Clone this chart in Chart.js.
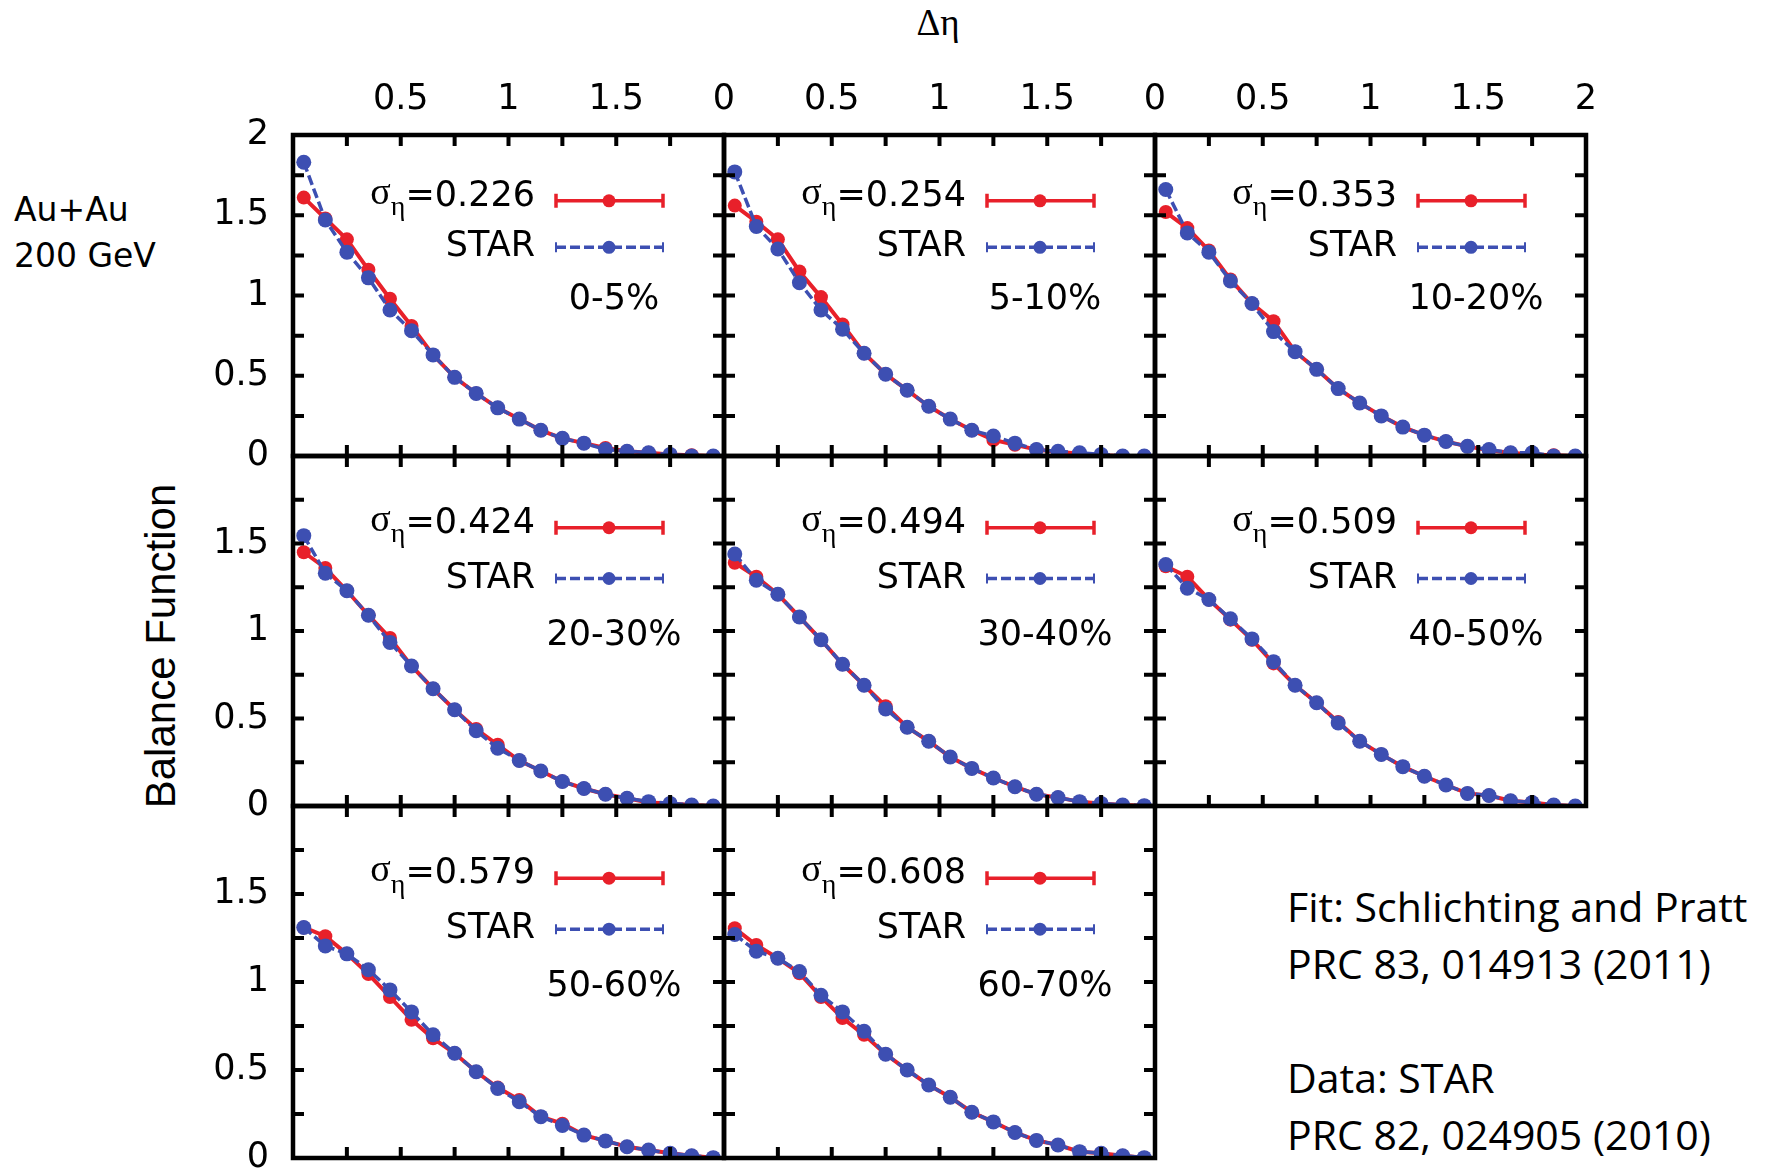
<!DOCTYPE html>
<html>
<head>
<meta charset="utf-8">
<script src="https://cdn.jsdelivr.net/npm/chart.js@4.4.1/dist/chart.umd.min.js"></script>
<style>
body { margin: 0; background: #fff; }
#page { position: relative; width: 1777px; height: 1173px; overflow: hidden; background: #fff; font-family: "DejaVu Sans", sans-serif; }
#page canvas { position: absolute; }
.txt { position: absolute; white-space: nowrap; color: #000; }
</style>
</head>
<body>
<div id="page">
  <div class="txt" style="left:14px; top:187px; font-size:33px; line-height:46px;">Au+Au<br>200 GeV</div>
  <div class="txt" style="left:161px; top:646px; font-size:42px; font-family:'Liberation Sans',Arial,sans-serif; transform: translate(-50%,-50%) rotate(-90deg);">Balance Function</div>
  <div class="txt" style="left:938px; top:22px; font-size:37px; font-family:'Liberation Serif',serif; transform: translate(-50%,-50%);">&Delta;&eta;</div>
  <div class="txt" style="left:1287px; top:878px; font-size:41px; line-height:57px; font-family:'Open Sans',sans-serif;">Fit: Schlichting and Pratt<br>PRC 83, 014913 (2011)<br>&nbsp;<br>Data: STAR<br>PRC 82, 024905 (2010)</div>
</div>
<script>
// delta eta bin centres
const deta = [0.05, 0.15, 0.25, 0.35, 0.45, 0.55, 0.65, 0.75, 0.85, 0.95,
              1.05, 1.15, 1.25, 1.35, 1.45, 1.55, 1.65, 1.75, 1.85, 1.95];
const centralities = ['0-5%', '5-10%', '10-20%', '20-30%', '30-40%', '40-50%', '50-60%', '60-70%'];
const sigmaEta = ['0.226', '0.254', '0.353', '0.424', '0.494', '0.509', '0.579', '0.608'];
const minorTicks = [0.25, 0.5, 0.75, 1, 1.25, 1.5, 1.75];

// fit (red) and STAR data (blue)
const fit0to5   = [1.61, 1.48, 1.35, 1.16, 0.98, 0.81, 0.63, 0.49, 0.39, 0.30, 0.23, 0.16, 0.11, 0.08, 0.05, 0.03, 0.02, 0.01, 0.005, 0.0];
const star0to5  = [1.83, 1.47, 1.27, 1.11, 0.91, 0.78, 0.63, 0.49, 0.39, 0.30, 0.23, 0.16, 0.11, 0.08, 0.04, 0.03, 0.02, 0.01, 0.0, 0.0];
const fit5to10  = [1.56, 1.46, 1.35, 1.15, 0.99, 0.82, 0.64, 0.51, 0.41, 0.31, 0.23, 0.16, 0.10, 0.07, 0.04, 0.025, 0.015, 0.005, 0.0, 0.0];
const star5to10 = [1.77, 1.43, 1.29, 1.08, 0.91, 0.79, 0.64, 0.51, 0.41, 0.31, 0.23, 0.16, 0.125, 0.08, 0.04, 0.03, 0.02, 0.01, 0.0, 0.0];
const fit10to20  = [1.52, 1.42, 1.28, 1.10, 0.95, 0.84, 0.65, 0.54, 0.42, 0.33, 0.25, 0.18, 0.13, 0.09, 0.06, 0.035, 0.02, 0.01, 0.005, 0.0];
const star10to20 = [1.66, 1.39, 1.27, 1.09, 0.95, 0.775, 0.65, 0.54, 0.42, 0.33, 0.25, 0.18, 0.13, 0.09, 0.06, 0.04, 0.02, 0.02, 0.0, 0.0];
const fit20to30  = [1.45, 1.36, 1.23, 1.09, 0.96, 0.80, 0.67, 0.55, 0.44, 0.35, 0.26, 0.20, 0.14, 0.10, 0.067, 0.044, 0.02, 0.015, 0.006, 0.0];
const star20to30 = [1.545, 1.33, 1.23, 1.09, 0.935, 0.80, 0.67, 0.55, 0.43, 0.33, 0.26, 0.20, 0.14, 0.10, 0.067, 0.044, 0.025, 0.015, 0.006, 0.0];
const fit30to40  = [1.39, 1.31, 1.21, 1.08, 0.95, 0.81, 0.69, 0.57, 0.45, 0.37, 0.28, 0.215, 0.16, 0.11, 0.067, 0.048, 0.025, 0.015, 0.006, 0.002];
const star30to40 = [1.44, 1.29, 1.21, 1.08, 0.95, 0.81, 0.69, 0.555, 0.45, 0.37, 0.28, 0.215, 0.16, 0.11, 0.067, 0.048, 0.025, 0.015, 0.006, 0.002];
const fit40to50  = [1.37, 1.31, 1.18, 1.065, 0.95, 0.815, 0.69, 0.59, 0.48, 0.37, 0.295, 0.225, 0.17, 0.12, 0.072, 0.06, 0.03, 0.02, 0.006, 0.0];
const star40to50 = [1.38, 1.245, 1.18, 1.07, 0.955, 0.825, 0.69, 0.59, 0.475, 0.37, 0.295, 0.225, 0.17, 0.12, 0.072, 0.06, 0.03, 0.02, 0.006, 0.0];
const fit50to60  = [1.31, 1.26, 1.16, 1.045, 0.915, 0.785, 0.68, 0.595, 0.49, 0.40, 0.33, 0.235, 0.195, 0.13, 0.097, 0.064, 0.045, 0.027, 0.013, 0.002];
const star50to60 = [1.31, 1.205, 1.16, 1.07, 0.955, 0.83, 0.70, 0.595, 0.49, 0.395, 0.32, 0.235, 0.185, 0.13, 0.097, 0.064, 0.045, 0.027, 0.013, 0.002];
const fit60to70  = [1.305, 1.21, 1.135, 1.05, 0.915, 0.795, 0.70, 0.59, 0.50, 0.415, 0.345, 0.26, 0.205, 0.145, 0.10, 0.074, 0.036, 0.027, 0.013, 0.002];
const star60to70 = [1.27, 1.175, 1.135, 1.06, 0.925, 0.83, 0.72, 0.59, 0.50, 0.415, 0.345, 0.26, 0.205, 0.145, 0.10, 0.074, 0.036, 0.027, 0.013, 0.002];

const fitSeries = [fit0to5, fit5to10, fit10to20, fit20to30, fit30to40, fit40to50, fit50to60, fit60to70];
const starSeries = [star0to5, star5to10, star10to20, star20to30, star30to40, star40to50, star50to60, star60to70];

const RED = '#e8202a';
const BLUE = '#3d4fb2';
const colEdges = [293, 724, 1155, 1586];
const rowEdges = [135, 456, 806, 1158];
const tickFont = { family: '"DejaVu Sans", sans-serif', size: 35 };
const AXW = 80, AXH = 60;      // fixed axis box sizes
const PL = 95, PT = 75, PR = 12, PB = 12;   // canvas margins round each panel

// frame, inner ticks, key and centrality label for one panel
const panelPlugin = {
    id: 'panelFrame',
    afterDatasetsDraw(chart) {
        const { ctx, chartArea: a } = chart;
        const x = chart.scales.x, y = chart.scales.y;
        const idx = chart.options.plugins.panelFrame.index;
        ctx.save();
        ctx.strokeStyle = '#000';
        ctx.lineWidth = 4;
        ctx.beginPath();
        minorTicks.forEach(v => {
            const px = x.getPixelForValue(v);
            ctx.moveTo(px, a.top); ctx.lineTo(px, a.top + 11);
            ctx.moveTo(px, a.bottom); ctx.lineTo(px, a.bottom - 11);
            const py = y.getPixelForValue(v);
            ctx.moveTo(a.left, py); ctx.lineTo(a.left + 11, py);
            ctx.moveTo(a.right, py); ctx.lineTo(a.right - 11, py);
        });
        ctx.stroke();
        ctx.lineWidth = 4.5;
        ctx.strokeRect(a.left, a.top, a.right - a.left, a.bottom - a.top);

        //key
        const yl1 = y.getPixelForValue(1.59);
        const yl2 = y.getPixelForValue(1.30);
        const yl3 = y.getPixelForValue(0.97);
        const tr = a.left + 242, s1 = a.left + 263, s2 = a.left + 370, sm = a.left + 316;
        ctx.fillStyle = '#000';
        ctx.textBaseline = 'middle';
        ctx.textAlign = 'left';
        const mainFont = '35px "DejaVu Sans", sans-serif';
        const symFont = '38px "Liberation Serif", serif';
        const subFont = '28px "Liberation Serif", serif';
        const rest = '=' + sigmaEta[idx];
        ctx.font = symFont; const wS = ctx.measureText('σ').width;
        ctx.font = subFont; const wE = ctx.measureText('η').width;
        ctx.font = mainFont; const wR = ctx.measureText(rest).width;
        let tx = tr - wS - wE - wR;
        ctx.font = symFont; ctx.fillText('σ', tx, yl1 - 7); tx += wS;
        ctx.font = subFont; ctx.fillText('η', tx, yl1 + 7); tx += wE;
        ctx.font = mainFont; ctx.fillText(rest, tx, yl1 - 4);
        ctx.textAlign = 'right';
        ctx.fillText('STAR', tr, yl2);
        ctx.textAlign = 'center';
        ctx.fillText(centralities[idx], a.left + 321, yl3);

        ctx.lineWidth = 3.5;
        ctx.strokeStyle = RED;
        ctx.beginPath();
        ctx.moveTo(s1, yl1); ctx.lineTo(s2, yl1);
        ctx.moveTo(s1, yl1 - 7); ctx.lineTo(s1, yl1 + 7);
        ctx.moveTo(s2, yl1 - 7); ctx.lineTo(s2, yl1 + 7);
        ctx.stroke();
        ctx.fillStyle = RED;
        ctx.beginPath(); ctx.arc(sm, yl1, 6.5, 0, Math.PI * 2); ctx.fill();

        ctx.strokeStyle = BLUE;
        ctx.setLineDash([10, 4]);
        ctx.beginPath();
        ctx.moveTo(s1, yl2); ctx.lineTo(s2, yl2);
        ctx.stroke();
        ctx.setLineDash([]);
        ctx.lineWidth = 2;
        ctx.beginPath();
        ctx.moveTo(s1, yl2 - 5); ctx.lineTo(s1, yl2 + 5);
        ctx.moveTo(s2, yl2 - 5); ctx.lineTo(s2, yl2 + 5);
        ctx.stroke();
        ctx.fillStyle = BLUE;
        ctx.beginPath(); ctx.arc(sm, yl2, 6.5, 0, Math.PI * 2); ctx.fill();
        ctx.restore();
    }
};

function xLabel(v, col) {
    if (col === 0 && v === 0) return '';
    if (col < 2 && v === 2) return '';
    return String(v);
}

function makePanel(idx, row, col) {
    const page = document.getElementById('page');
    const x0 = colEdges[col], x1 = colEdges[col + 1];
    const y0 = rowEdges[row], y1 = rowEdges[row + 1];
    const cv = document.createElement('canvas');
    cv.width = x1 - x0 + PL + PR;
    cv.height = y1 - y0 + PT + PB;
    cv.style.left = (x0 - PL) + 'px';
    cv.style.top = (y0 - PT) + 'px';
    page.appendChild(cv);
    const showX = row === 0, showY = col === 0;

    new Chart(cv, {
        type: 'line',
        data: {
            datasets: [
                {
                    label: 'STAR',
                    data: deta.map((d, k) => ({ x: d, y: starSeries[idx][k] })),
                    borderColor: BLUE,
                    backgroundColor: BLUE,
                    borderWidth: 3.5,
                    borderDash: [10, 4],
                    pointRadius: 7.5,
                    pointBorderWidth: 0,
                    pointBackgroundColor: BLUE,
                    order: 0
                },
                {
                    label: 'σ=' + sigmaEta[idx],
                    data: deta.map((d, k) => ({ x: d, y: fitSeries[idx][k] })),
                    borderColor: RED,
                    backgroundColor: RED,
                    borderWidth: 4,
                    pointRadius: 7,
                    pointBorderWidth: 0,
                    pointBackgroundColor: RED,
                    order: 1
                }
            ]
        },
        options: {
            responsive: false,
            animation: false,
            devicePixelRatio: 1,
            layout: { padding: { left: showY ? PL - AXW : PL, top: showX ? PT - AXH : PT, right: PR, bottom: PB } },
            plugins: { legend: { display: false }, tooltip: { enabled: false }, panelFrame: { index: idx } },
            scales: {
                x: {
                    type: 'linear', position: 'top', min: 0, max: 2, display: showX,
                    grid: { display: false, drawTicks: false }, border: { display: false },
                    ticks: { stepSize: 0.5, padding: 14, font: tickFont, color: '#000', maxRotation: 0, autoSkip: false,
                             callback: v => xLabel(v, col) },
                    afterFit: s => { s.height = showX ? AXH : 0; s.paddingLeft = 0; s.paddingRight = 0; }
                },
                y: {
                    type: 'linear', min: 0, max: 2, display: showY,
                    grid: { display: false, drawTicks: false }, border: { display: false },
                    ticks: { stepSize: 0.5, padding: 24, font: tickFont, color: '#000', autoSkip: false,
                             callback: v => (row > 0 && v === 2) ? '' : String(v) },
                    afterFit: s => { s.width = showY ? AXW : 0; s.paddingTop = 0; s.paddingBottom = 0; }
                }
            }
        },
        plugins: [panelPlugin]
    });
}

for (let i = 0; i < 8; i++) {
    makePanel(i, Math.floor(i / 3), i % 3);
}
</script>
</body>
</html>
